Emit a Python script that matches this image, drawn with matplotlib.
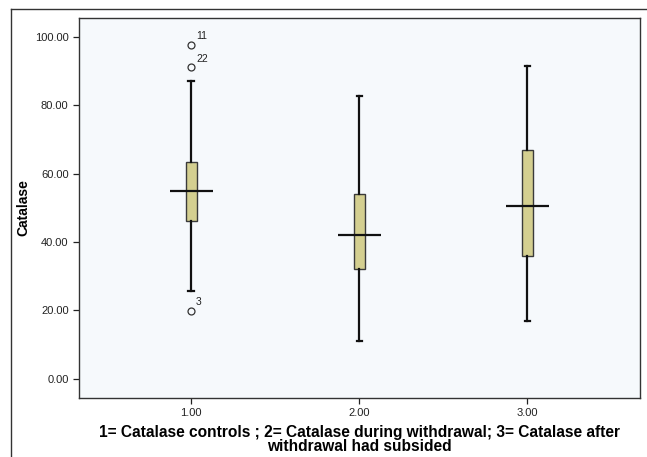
import matplotlib.pyplot as plt
from matplotlib.lines import Line2D

plt.rcParams["font.family"] = ["Liberation Sans", "DejaVu Sans"]

# group summaries for the three catalase groups
positions = [1, 2, 3]
tick_labels = ["1.00", "2.00", "3.00"]
q1 = [46.2, 32.2, 35.8]
medians = [54.8, 42.0, 50.4]
q3 = [63.3, 54.1, 66.8]
whisker_low = [25.6, 11.2, 16.8]
whisker_high = [87.1, 82.7, 91.4]
outliers = [[97.7, 91.1, 19.9], [], []]
outlier_ids = [["11", "22", "3"], [], []]

stats = []
for i in range(3):
    stats.append({"med": medians[i], "q1": q1[i], "q3": q3[i],
                  "whislo": whisker_low[i], "whishi": whisker_high[i],
                  "fliers": outliers[i]})

fig = plt.figure(figsize=(6.47, 4.57), dpi=100)
ax = fig.add_axes([0.1221, 0.1291, 0.8671, 0.8315])
ax.set_facecolor("#f6f9fc")

ax.bxp(stats, positions=positions, widths=0.065, patch_artist=True,
       showfliers=True,
       boxprops=dict(facecolor="#d4cf90", edgecolor="#3a3a3a", linewidth=1.0),
       whiskerprops=dict(color="#111111", linewidth=1.6),
       capprops=dict(color="#111111", linewidth=1.6),
       medianprops=dict(linewidth=0),
       flierprops=dict(marker="o", markerfacecolor="none",
                       markeredgecolor="#333333", markersize=5,
                       markeredgewidth=0.9))

# SPSS-style medians stick out past the box
ax.hlines(medians, [p - 0.128 for p in positions],
          [p + 0.128 for p in positions], colors="#111111", linewidth=1.6,
          zorder=4)

for p, vals, ids in zip(positions, outliers, outlier_ids):
    for v, t in zip(vals, ids):
        ax.annotate(t, (p, v), xytext=(3.5, 4), textcoords="offset points",
                    fontsize=7.5, color="#222222")

ax.set_xlim(0.333, 3.67)
ax.set_ylim(-5.6, 105.5)
ax.set_xticks(positions)
ax.set_xticklabels(tick_labels)
ax.set_yticks([0, 20, 40, 60, 80, 100])
ax.set_yticklabels(["0.00", "20.00", "40.00", "60.00", "80.00", "100.00"])
ax.tick_params(labelsize=8, length=4, width=0.9, colors="#222222",
               direction="out")
for s in ax.spines.values():
    s.set_color("#333333")
    s.set_linewidth(1.0)

ax.set_ylabel("Catalase", fontsize=10, fontweight="bold", labelpad=3)
ax.set_xlabel("1= Catalase controls ; 2= Catalase during withdrawal; 3= Catalase after\nwithdrawal had subsided",
              fontsize=11.2, fontweight="bold", linespacing=0.9, labelpad=5)

# outer chart frame
fig.add_artist(Line2D([11 / 647, 11 / 647], [0, 1 - 9 / 457],
                      transform=fig.transFigure, color="#333333", lw=1.0))
fig.add_artist(Line2D([11 / 647, 1], [1 - 9 / 457, 1 - 9 / 457],
                      transform=fig.transFigure, color="#333333", lw=1.0))

fig.savefig("out.png", dpi=100)
